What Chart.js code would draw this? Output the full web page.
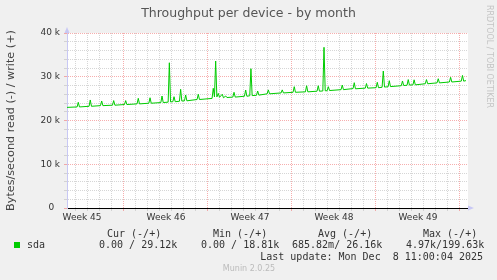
<!DOCTYPE html>
<html>
<head>
<meta charset="utf-8">
<title>Throughput per device - by month</title>
<script src="https://cdn.jsdelivr.net/npm/chart.js@4.4.1/dist/chart.umd.min.js"></script>
<style>
  html, body { margin: 0; padding: 0; background: #f0f0f0; }
  #wrap { width: 497px; height: 280px; }
</style>
</head>
<body>
<div id="wrap"><canvas id="throughput" width="497" height="280"></canvas></div>
<script>
// time axis is in days, day 0 = Mon Nov 3 00:00 (start of week 45)
let xMin = 2.25;
let xMax = 35.67;

let weekCenters = [3.5, 10.5, 17.5, 24.5, 31.5];
let weekLabels = ['Week 45', 'Week 46', 'Week 47', 'Week 48', 'Week 49'];

let yTickValues = [0, 10000, 20000, 30000, 40000];
let yTickLabels = ['0  ', '10 k', '20 k', '30 k', '40 k'];

// write (+) in bytes/second
let writeDays = [
  2.25, 3.09, 3.19, 3.29, 4.09, 4.19, 4.29, 5.04, 5.14, 5.24,
  6.04, 6.14, 6.24, 7.04, 7.14, 7.24, 8.09, 8.19, 8.29, 9.07,
  9.17, 9.27, 10.07, 10.17, 10.27, 10.68, 10.78, 10.88, 11.07, 11.17,
  11.27, 11.62, 11.72, 11.82, 12.04, 12.14, 12.24, 13.09, 13.19, 13.29,
  14.34, 14.44, 14.54, 14.64, 14.74, 14.86, 14.96, 15.19, 15.29, 15.48,
  15.58, 16.07, 16.17, 16.27, 17.04, 17.14, 17.24, 17.48, 17.58, 17.68,
  18.04, 18.14, 18.24, 18.93, 19.03, 19.13, 20.09, 20.19, 20.29, 21.09,
  21.19, 21.29, 22.12, 22.22, 22.32, 23.09, 23.19, 23.29, 23.57, 23.67,
  23.77, 23.93, 24.03, 24.13, 25.09, 25.19, 25.29, 26.09, 26.19, 26.29,
  27.11, 27.21, 27.31, 28.01, 28.11, 28.21, 28.51, 28.61, 28.71, 29.01,
  29.11, 29.21, 30.11, 30.21, 30.31, 30.59, 30.69, 30.79, 31.08, 31.18,
  31.28, 32.11, 32.21, 32.31, 33.09, 33.19, 33.29, 34.12, 34.22, 34.32,
  35.11, 35.21, 35.31, 35.50
];
let writeValues = [
  23000, 23100, 24160, 23100, 23250, 24690, 23250, 23400, 24460, 23400,
  23500, 24550, 23500, 23650, 24550, 23650, 23800, 25070, 23800, 23950,
  25200, 23950, 24100, 25600, 24100, 24200, 33200, 24250, 24300, 25440,
  24300, 24400, 27130, 24450, 24500, 25830, 24500, 24800, 26000, 24800,
  25050, 27360, 25400, 33600, 25400, 26200, 25300, 26000, 25200, 25600,
  25250, 25350, 26450, 25350, 25550, 26970, 25550, 25650, 31840, 25700,
  25750, 26740, 25800, 26100, 27000, 26100, 26300, 27000, 26300, 26450,
  27730, 26450, 26550, 27950, 26550, 26700, 27950, 26700, 26750, 36730,
  26800, 26800, 27730, 26850, 27050, 28110, 27050, 27300, 28640, 27250,
  27400, 28450, 27400, 27500, 28730, 27500, 27600, 31310, 27650, 27700,
  29100, 27750, 27950, 29030, 28000, 28050, 29350, 28100, 28150, 29300,
  28150, 28400, 29350, 28400, 28600, 29550, 28600, 28800, 29870, 28800,
  29000, 30300, 29000, 29120
];

// legend table
let legendHeads = ['Cur (-/+)', 'Min (-/+)', 'Avg (-/+)', 'Max (-/+)'];
let legendValues = ['0.00 / 29.12k', '0.00 / 18.81k', '685.82m/ 26.16k', '4.97k/199.63k'];
let seriesName = 'sda';
let lastUpdate = 'Last update: Mon Dec  8 11:00:04 2025';

let green = '#00cc00';
let majorGrid = 'rgba(240, 120, 120, 0.6)';
let minorGrid = 'rgba(200, 200, 200, 0.75)';
let arrowColor = '#c8c8f4';

let gridDays = [];
for (let d = Math.ceil(xMin); d <= Math.floor(xMax); d++) gridDays.push(d);

let writePoints = writeDays.map((d, i) => ({ x: d, y: writeValues[i] }));

// background, texts, arrows, legend
const muninLook = {
  id: 'muninLook',
  beforeDraw(chart) {
    const { ctx, chartArea } = chart;
    ctx.save();
    ctx.fillStyle = '#f0f0f0';
    ctx.fillRect(0, 0, chart.width, chart.height);
    ctx.fillStyle = '#ffffff';
    ctx.fillRect(chartArea.left, chartArea.top, chartArea.right - chartArea.left, chartArea.bottom - chartArea.top);
    ctx.restore();
  },
  afterDraw(chart) {
    const { ctx, chartArea } = chart;
    ctx.save();

    // title
    ctx.fillStyle = '#555';
    ctx.font = '12.5px "DejaVu Sans"';
    ctx.textAlign = 'center';
    ctx.textBaseline = 'middle';
    ctx.fillText('Throughput per device - by month', chart.width / 2, 13.5);

    // rrdtool watermark
    ctx.save();
    ctx.translate(489, 5);
    ctx.rotate(Math.PI / 2);
    ctx.fillStyle = '#c4c4c4';
    ctx.font = '8px "DejaVu Sans"';
    ctx.textAlign = 'left';
    ctx.fillText('RRDTOOL / TOBI OETIKER', 0, 0);
    ctx.restore();

    // axis arrows
    const left = chartArea.left, bottom = chartArea.bottom, right = chartArea.right;
    ctx.fillStyle = arrowColor;
    ctx.beginPath();
    ctx.moveTo(left, chartArea.top - 6);
    ctx.lineTo(left - 2.5, chartArea.top);
    ctx.lineTo(left + 2.5, chartArea.top);
    ctx.closePath();
    ctx.fill();
    ctx.beginPath();
    ctx.moveTo(right + 6, bottom);
    ctx.lineTo(right, bottom - 2.5);
    ctx.lineTo(right, bottom + 2.5);
    ctx.closePath();
    ctx.fill();

    // legend
    ctx.font = '10px "DejaVu Sans Mono"';
    ctx.fillStyle = '#333';
    ctx.textAlign = 'left';
    let headX = [107, 213, 318, 423];
    let valX = [99, 201, 292, 406];
    legendHeads.forEach((t, i) => ctx.fillText(t, headX[i], 234));
    legendValues.forEach((t, i) => ctx.fillText(t, valX[i], 245.5));
    ctx.fillText(seriesName, 27, 245.5);
    ctx.textAlign = 'right';
    ctx.fillText(lastUpdate, 483, 257);
    ctx.fillStyle = green;
    ctx.fillRect(14, 242, 6, 6);

    ctx.fillStyle = '#bbb';
    ctx.font = '8px "DejaVu Sans"';
    ctx.textAlign = 'center';
    ctx.fillText('Munin 2.0.25', 249, 269);
    ctx.restore();
  }
};

new Chart(document.getElementById('throughput'), {
  type: 'line',
  data: {
    datasets: [{
      label: 'sda',
      data: writePoints,
      borderColor: green,
      borderWidth: 1,
      pointRadius: 0,
      tension: 0,
      fill: false,
      xAxisID: 'x',
      yAxisID: 'y'
    }]
  },
  options: {
    responsive: false,
    animation: false,
    layout: { padding: { top: 33, right: 29, bottom: 52, left: 0 } },
    plugins: {
      legend: { display: false },
      title: { display: false },
      tooltip: { enabled: false }
    },
    scales: {
      x: {
        type: 'linear',
        position: 'bottom',
        min: xMin,
        max: xMax,
        afterBuildTicks: (scale) => { scale.ticks = gridDays.map(v => ({ value: v })); },
        afterFit: (scale) => { scale.height = 0; },
        ticks: { display: false },
        grid: {
          color: (c) => (c.tick && c.tick.value % 7 === 0) ? majorGrid : minorGrid,
          tickLength: 3,
          tickBorderDash: []
        },
        border: { display: true, color: '#000', width: 1, dash: [1, 1] }
      },
      xl: {
        type: 'linear',
        position: 'bottom',
        min: xMin,
        max: xMax,
        afterBuildTicks: (scale) => { scale.ticks = weekCenters.map(v => ({ value: v })); },
        afterFit: (scale) => { scale.height = 20; },
        ticks: {
          autoSkip: false,
          maxRotation: 0,
          padding: 4,
          color: '#333',
          font: { family: 'DejaVu Sans', size: 9 },
          callback: (v, i) => weekLabels[i]
        },
        grid: { display: false, drawTicks: false },
        border: { display: false }
      },
      y: {
        min: 0,
        max: 40000,
        afterFit: (scale) => { scale.width = 67; },
        ticks: {
          stepSize: 2000,
          autoSkip: false,
          padding: 4,
          color: '#333',
          font: { family: 'DejaVu Sans', size: 9 },
          callback: (v) => {
            let i = yTickValues.indexOf(v);
            return i >= 0 ? yTickLabels[i] : '';
          }
        },
        grid: {
          color: (c) => (c.tick && c.tick.value % 10000 === 0) ? majorGrid : minorGrid,
          tickLength: 3,
          tickBorderDash: []
        },
        border: { display: true, color: arrowColor, width: 1, dash: [1, 1] },
        title: {
          display: true,
          text: 'Bytes/second read (-) / write (+)',
          color: '#444',
          font: { family: 'DejaVu Sans', size: 11.2 },
          padding: { top: 4, bottom: 0 }
        }
      }
    }
  },
  plugins: [muninLook]
});
</script>
</body>
</html>
